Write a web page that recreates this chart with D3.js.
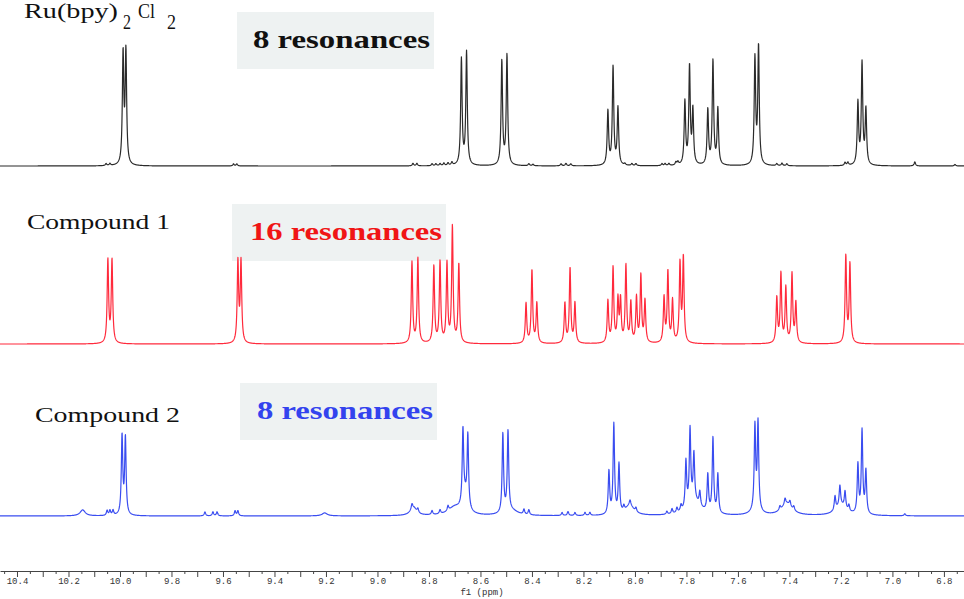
<!DOCTYPE html>
<html>
<head>
<meta charset="utf-8">
<script src="https://cdn.jsdelivr.net/npm/d3@7"></script>
<style>
  body { margin: 0; background: #fff; }
</style>
</head>
<body>
<script>
// AXIS
var tickLabels = ["10.4", "10.2", "10.0", "9.8", "9.6", "9.4", "9.2", "9.0", "8.8",
                  "8.6", "8.4", "8.2", "8.0", "7.8", "7.6", "7.4", "7.2", "7.0", "6.8"];
var axisTitle = "f1 (ppm)";

// Ru(bpy)2Cl2 : peak shift (ppm) and height
var ruPpm = [10.054, 10.039, 9.988, 9.977, 9.559, 9.546, 8.862, 8.847, 8.788, 8.773, 8.757, 8.742,
             8.726, 8.711, 8.674, 8.654, 8.517, 8.497, 8.412, 8.396, 8.287, 8.268, 8.249,
             8.105, 8.085, 8.066, 8.039, 8.012, 7.996, 7.895, 7.883, 7.868, 7.841, 7.833,
             7.806, 7.788, 7.775, 7.717, 7.697, 7.678, 7.534, 7.520, 7.449, 7.429, 7.410,
             7.184, 7.173, 7.134, 7.118, 7.103, 6.913, 6.757];
var ruHeight = [2, 2, 110, 112, 2, 2, 2.5, 2.5, 2, 2, 2, 2.5,
                2.5, 3, 106, 113, 104, 110, 2, 1.5, 2, 2.5, 2,
                54, 98, 57, 1.5, 2, 2, 2, 2, 2, 3, 3,
                63, 98, 54, 55, 104, 56, 106, 118, 2, 2.5, 2,
                3, 3, 62, 101, 55, 4, 1.5];

// Compound 1
var c1Ppm = [10.047, 10.031, 9.542, 9.530, 8.866, 8.843, 8.781, 8.757, 8.730, 8.709, 8.684,
             8.423, 8.400, 8.381, 8.272, 8.252, 8.233, 8.105, 8.085, 8.066, 8.056, 8.035,
             8.016, 7.994, 7.977, 7.961, 7.887, 7.872, 7.854, 7.825, 7.812,
             7.449, 7.433, 7.414, 7.390, 7.375, 7.181, 7.165];
var c1Height = [83, 83, 81, 81, 81, 85, 77, 81, 79, 116, 79,
                40, 73, 40, 40, 75, 40, 42, 75, 42, 42, 77,
                40, 45, 67, 42, 45, 71, 42, 79, 85,
                45, 69, 55, 69, 40, 87, 79];

// Compound 2 : sharp lines
var c2Ppm = [10.050, 10.039, 10.027, 9.992, 9.979, 9.670, 9.639, 9.623, 9.553, 9.542,
             8.866, 8.843, 8.788, 8.757, 8.726, 8.668, 8.649, 8.513, 8.493, 8.431, 8.412,
             8.283, 8.260, 8.233, 8.194, 8.175, 8.101, 8.082, 8.062, 8.043, 8.019, 7.996,
             7.876, 7.856, 7.837, 7.821, 7.802, 7.786, 7.771, 7.748, 7.717, 7.697, 7.678,
             7.534, 7.522, 7.437, 7.417, 7.398, 7.383, 7.223, 7.204, 7.184, 7.169,
             7.134, 7.118, 7.103, 6.952];
var c2Height = [5, 5, 5, 79, 77, 4, 4, 4, 5, 5,
                5, 4, 4, 4, 5, 73, 71, 79, 80, 5, 5,
                3, 4, 3, 3, 3, 43, 90, 49, 5, 5, 4,
                3, 5, 5, 6, 47, 75, 47, 14, 37, 75, 39,
                83, 87, 4, 6, 5, 4, 14, 20, 17, 6,
                49, 83, 43, 2];
// Compound 2 : broad humps (centre ppm, height, half width ppm)
var c2HumpPpm = [10.145, 9.205, 8.860, 8.700, 8.660, 8.480, 8.020, 7.770, 7.530, 7.410, 7.200];
var c2HumpHeight = [6, 3, 8, 8, 16, 5, 10, 14, 5, 12, 10];
var c2HumpWidth = [0.012, 0.012, 0.015, 0.03, 0.012, 0.03, 0.02, 0.03, 0.02, 0.025, 0.025];

var w = 964;
var h = 599;
var lineWidth = 0.0033; // ppm, half width of the sharp lines

var svg = d3.select("body")
  .append("svg")
  .attr("width", w)
  .attr("height", h);

var x = d3.scaleLinear()
  .domain([10.466, 6.722])
  .range([0, w]);

// sum of lorentzians
function lorentz(p, centres, heights, widths) {
  var s = 0;
  for (var i = 0; i < centres.length; i++) {
    var g = Array.isArray(widths) ? widths[i] : widths;
    var d = (p - centres[i]) / g;
    s += heights[i] / (1 + d * d);
  }
  return s;
}

var grid = d3.range(10.466, 6.72, -0.0008);

function trace(base, colour, f) {
  var y = d3.scaleLinear().domain([0, 100]).range([base, base - 100]);
  var line = d3.line()
    .x(function(d) { return x(d); })
    .y(function(d) { return y(f(d)); });
  svg.append("path")
    .datum(grid)
    .attr("d", line)
    .attr("fill", "none")
    .attr("stroke", colour)
    .attr("stroke-width", 1.2)
    .attr("stroke-linejoin", "round");
}

// label boxes (behind the traces)
function box(x0, y0, x1, y1) {
  svg.append("rect")
    .attr("x", x0).attr("y", y0)
    .attr("width", x1 - x0).attr("height", y1 - y0)
    .attr("fill", "#eef2f2");
}
box(237, 12, 434, 69);
box(232, 204, 446, 261);
box(240, 383, 437, 440);

trace(166, "#2b2b2b", function(p) { return lorentz(p, ruPpm, ruHeight, lineWidth); });
trace(344, "#ff2a3c", function(p) { return lorentz(p, c1Ppm, c1Height, lineWidth); });
trace(516, "#3a4df0", function(p) {
  return lorentz(p, c2Ppm, c2Height, lineWidth) + lorentz(p, c2HumpPpm, c2HumpHeight, c2HumpWidth);
});

// texts
function label(t, x0, yb, len, size, weight, colour) {
  svg.append("text")
    .attr("x", x0).attr("y", yb)
    .attr("textLength", len)
    .attr("lengthAdjust", "spacingAndGlyphs")
    .attr("font-family", "Liberation Serif, serif")
    .attr("font-size", size)
    .attr("font-weight", weight)
    .attr("fill", colour)
    .text(t);
}
label("Ru(bpy)", 24, 18, 94, 20, "normal", "#111");
label("2", 123, 29, 8, 20, "normal", "#111");
label("Cl", 138, 18, 17, 20, "normal", "#111");
label("2", 167, 29, 9, 20, "normal", "#111");
label("Compound 1", 27, 229, 143, 22, "normal", "#111");
label("Compound 2", 35, 422, 145, 22, "normal", "#111");
label("8 resonances", 253, 48, 177, 26, "bold", "#111");
label("16 resonances", 250, 240, 192, 26, "bold", "#f01515");
label("8 resonances", 257, 419, 176, 26, "bold", "#3343ee");

// axis
var axisY = 571;
var minor = d3.range(6.75, 10.46, 0.1).map(function(d) { return +d.toFixed(2); });
var major = d3.range(6.8, 10.41, 0.1).map(function(d) { return +d.toFixed(1); });

svg.append("g")
  .attr("transform", "translate(0," + axisY + ")")
  .call(d3.axisBottom(x).tickValues(minor).tickSize(3).tickSizeOuter(0).tickFormat(""))
  .call(function(g) { g.select(".domain").remove(); })
  .selectAll("line").attr("stroke", "#444");

var ax = svg.append("g")
  .attr("transform", "translate(0," + axisY + ")")
  .call(d3.axisBottom(x).tickValues(major).tickSize(6).tickSizeOuter(0).tickPadding(1)
    .tickFormat(function(d) {
      var s = d.toFixed(1);
      return tickLabels.indexOf(s) >= 0 ? s : "";
    }));
ax.select(".domain").attr("stroke", "#444");
ax.selectAll("line").attr("stroke", "#444");
ax.selectAll("text")
  .attr("font-family", "Liberation Mono, monospace")
  .attr("font-size", 9)
  .attr("fill", "#333");

svg.append("text")
  .attr("x", 482).attr("y", 595)
  .attr("text-anchor", "middle")
  .attr("font-family", "Liberation Mono, monospace")
  .attr("font-size", 9)
  .attr("fill", "#333")
  .text(axisTitle);
</script>
</body>
</html>
